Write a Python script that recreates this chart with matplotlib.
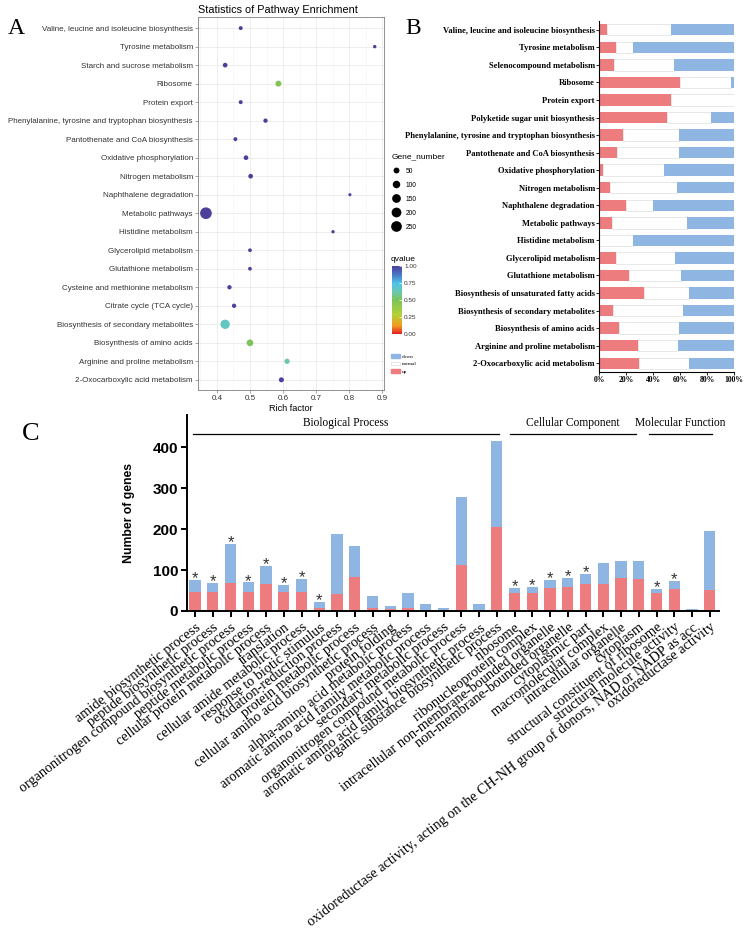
import numpy as np
import matplotlib.pyplot as plt
from matplotlib.colors import LinearSegmentedColormap, Normalize
from matplotlib.cm import ScalarMappable
from matplotlib.lines import Line2D
from matplotlib.patches import Patch

W, H = 744, 934

# ---------------- panel A: KEGG enrichment bubbles (top to bottom) ----------------
kegg_terms = [
    'Valine, leucine and isoleucine biosynthesis', 'Tyrosine metabolism',
    'Starch and sucrose metabolism', 'Ribosome', 'Protein export',
    'Phenylalanine, tyrosine and tryptophan biosynthesis',
    'Pantothenate and CoA biosynthesis', 'Oxidative phosphorylation',
    'Nitrogen metabolism', 'Naphthalene degradation', 'Metabolic pathways',
    'Histidine metabolism', 'Glycerolipid metabolism', 'Glutathione metabolism',
    'Cysteine and methionine metabolism', 'Citrate cycle (TCA cycle)',
    'Biosynthesis of secondary metabolites', 'Biosynthesis of amino acids',
    'Arginine and proline metabolism', '2-Oxocarboxylic acid metabolism',
]
rich_factor = [0.472, 0.877, 0.425, 0.586, 0.472, 0.547, 0.456, 0.488, 0.502, 0.802,
               0.367, 0.751, 0.500, 0.500, 0.438, 0.452, 0.425, 0.500, 0.612, 0.595]
gene_number = [13, 7, 24, 53, 13, 18, 13, 24, 24, 4,
               310, 6, 10, 10, 18, 18, 177, 73, 36, 30]
qvalue = [1.0, 1.0, 1.0, 0.48, 1.0, 1.0, 1.0, 1.0, 1.0, 1.0,
          1.0, 1.0, 1.0, 1.0, 1.0, 1.0, 0.66, 0.50, 0.60, 1.0]
size_breaks = [50, 100, 150, 200, 250]
q_breaks = [0.0, 0.25, 0.5, 0.75, 1.0]

# ---------------- panel B: up / normal / down share (%) ----------------
b_terms = [
    'Valine, leucine and isoleucine biosynthesis', 'Tyrosine metabolism',
    'Selenocompound metabolism', 'Ribosome', 'Protein export',
    'Polyketide sugar unit biosynthesis',
    'Phenylalanine, tyrosine and tryptophan biosynthesis',
    'Pantothenate and CoA biosynthesis', 'Oxidative phosphorylation',
    'Nitrogen metabolism', 'Naphthalene degradation', 'Metabolic pathways',
    'Histidine metabolism', 'Glycerolipid metabolism', 'Glutathione metabolism',
    'Biosynthesis of unsaturated fatty acids', 'Biosynthesis of secondary metabolites',
    'Biosynthesis of amino acids', 'Arginine and proline metabolism',
    '2-Oxocarboxylic acid metabolism',
]
b_up = [6, 12.5, 11, 60, 53, 50, 18, 13.5, 3, 8, 20, 9.5, 0, 12.5, 22, 33.3, 10, 15, 29, 29.5]
b_down = [47, 75, 44.5, 2, 0, 17, 41, 41, 52, 42.5, 60, 34.5, 75, 44, 39, 33.4, 38, 40.5, 41.5, 33.5]

# ---------------- panel C: GO terms ----------------
go_terms = [
    'amide biosynthetic process', 'peptide biosynthetic process',
    'organonitrogen compound biosynthetic process', 'peptide metabolic process',
    'cellular protein metabolic process', 'translation',
    'cellular amide metabolic process', 'response to biotic stimulus',
    'oxidation-reduction process', 'protein metabolic process',
    'cellular amino acid biosynthetic process', 'protein folding',
    'alpha-amino acid metabolic process', 'aromatic amino acid family metabolic process',
    'secondary metabolic process', 'organonitrogen compound metabolic process',
    'aromatic amino acid family biosynthetic process',
    'organic substance biosynthetic process',
    'ribosome', 'ribonucleoprotein complex',
    'intracellular non-membrane-bounded organelle', 'non-membrane-bounded organelle',
    'cytoplasmic part', 'macromolecular complex', 'intracellular organelle', 'cytoplasm',
    'structural constituent of ribosome', 'structural molecule activity',
    'oxidoreductase activity, acting on the CH-NH group of donors, NAD or NADP as acc',
    'oxidoreductase activity',
]
go_total = [76, 69, 164, 70, 111, 64, 79, 22, 188, 158, 36, 11, 44, 17, 7,
            279, 16, 415, 57, 59, 76, 81, 91, 118, 122, 122, 54, 74, 6, 195]
go_up = [46, 46, 68, 46, 65, 46, 47, 7, 42, 84, 7, 5, 7, 1, 2,
         112, 1, 205, 43, 45, 56, 58, 67, 67, 80, 77, 43, 53, 1, 51]
go_star = [1, 1, 1, 1, 1, 1, 1, 1, 0, 0, 0, 0, 0, 0, 0,
           0, 0, 0, 1, 1, 1, 1, 1, 0, 0, 0, 1, 1, 0, 0]
go_groups = ['Biological Process', 'Cellular Component', 'Molecular Function']
go_group_span = [(-0.1, 17.1), (17.75, 24.85), (25.6, 29.1)]

RED = '#ED7C7F'
BLUE = '#8FB6E3'


def px_axes(fig, l, t, r, b):
    return fig.add_axes([l / W, 1 - b / H, (r - l) / W, (b - t) / H])


def dot_px(g):
    # bubble diameter in pixels, area-like scaling
    return 2.0 + 9.5 * np.sqrt(np.asarray(g, float) / 300.0)


fig = plt.figure(figsize=(W / 100, H / 100), dpi=100)
fig.patch.set_facecolor('white')

sans = 'Liberation Sans'
serif = 'Liberation Serif'

# ======================= A =======================
cmap = LinearSegmentedColormap.from_list('q', [
    (0.0, '#E41E26'), (0.12, '#F39A1E'), (0.28, '#B4D234'), (0.5, '#7CC35A'),
    (0.62, '#6BC8B0'), (0.75, '#4EC2E8'), (0.88, '#4A75C4'), (1.0, '#4E3F9A')])
norm = Normalize(0, 1)

axA = px_axes(fig, 198, 17, 384, 390)
n = len(kegg_terms)
ya = np.arange(n)[::-1]
axA.scatter(rich_factor, ya, s=(dot_px(gene_number) * 0.72) ** 2,
            c=qvalue, cmap=cmap, norm=norm, linewidths=0, zorder=3)
axA.set_xlim(0.343, 0.905)
axA.set_ylim(-0.55, n - 0.4)
axA.set_yticks(ya)
axA.set_yticklabels(kegg_terms)
axA.set_xticks([0.4, 0.5, 0.6, 0.7, 0.8, 0.9])
axA.set_xticks([0.35, 0.45, 0.55, 0.65, 0.75, 0.85], minor=True)
axA.tick_params(axis='both', labelsize=5.75, colors='#7f7f7f', length=2.2, width=0.5,
                pad=1.5, labelcolor='#333333')
axA.tick_params(axis='x', which='minor', length=0)
for lab in axA.get_xticklabels() + axA.get_yticklabels():
    lab.set_fontfamily(sans)
axA.grid(True, which='major', color='#ebebeb', lw=0.6)
axA.grid(True, which='minor', axis='x', color='#f3f3f3', lw=0.4)
axA.set_axisbelow(True)
for sp in axA.spines.values():
    sp.set_color('#7f7f7f')
    sp.set_linewidth(0.6)
axA.set_xlabel('Rich factor', fontsize=6.6, family=sans, labelpad=1.5)
axA.set_title('Statistics of Pathway Enrichment', fontsize=7.8, family=sans, pad=3,
              loc='left')

# size legend
size_handles = [Line2D([], [], ls='', marker='o', color='black', mec='none',
                       markersize=dot_px(g) * 0.72) for g in size_breaks]
legS = fig.legend(size_handles, [str(g) for g in size_breaks], title='Gene_number',
                  loc='upper left', bbox_to_anchor=(389 / W, 1 - 151 / H),
                  frameon=False, title_fontsize=6, labelspacing=1.05,
                  handletextpad=0.9, handlelength=1.2, borderaxespad=0,
                  prop={'family': sans, 'size': 4.8})
legS._legend_box.align = 'left'
legS.get_title().set_fontfamily(sans)

# qvalue colourbar
cax = px_axes(fig, 392, 266, 402, 334)
cb = fig.colorbar(ScalarMappable(norm=norm, cmap=cmap), cax=cax, ticks=q_breaks)
cb.ax.set_yticklabels(['%.2f' % q for q in q_breaks])
cb.ax.tick_params(labelsize=4.6, length=2, width=0.5, color='white', pad=1.5,
                  labelcolor='#333333', direction='in')
for lab in cb.ax.get_yticklabels():
    lab.set_fontfamily(sans)
cb.outline.set_visible(False)
fig.text(391 / W, 1 - 263 / H, 'qvalue', fontsize=6, family=sans, va='bottom')

# ======================= B =======================
axB = px_axes(fig, 599, 21, 734, 372)
nb = len(b_terms)
yb = np.arange(nb)[::-1]
b_up_a = np.array(b_up, float)
b_down_a = np.array(b_down, float)
b_norm_a = 100 - b_up_a - b_down_a
axB.barh(yb, b_up_a, height=0.65, color=RED, lw=0)
axB.barh(yb, b_norm_a, left=b_up_a, height=0.65, color='white', edgecolor='#dedede', lw=0.5)
axB.barh(yb, b_down_a, left=b_up_a + b_norm_a, height=0.65, color=BLUE, lw=0)
axB.set_xlim(0, 100)
axB.set_ylim(-0.5, nb - 0.5)
axB.set_yticks(yb)
axB.set_yticklabels(b_terms, fontsize=6.1, family=serif, fontweight='bold')
axB.set_xticks(np.arange(0, 101, 20))
axB.set_xticklabels(['%d%%' % v for v in range(0, 101, 20)], fontsize=5.5,
                    family=serif, fontweight='bold')
axB.tick_params(length=2, width=0.6, pad=1)
for s in ['top', 'right']:
    axB.spines[s].set_visible(False)
for s in ['left', 'bottom']:
    axB.spines[s].set_linewidth(0.8)

fig.legend([Patch(color=BLUE), Patch(facecolor='white', edgecolor='#dddddd', lw=0.5),
            Patch(color=RED)], ['down', 'normal', 'up'],
           loc='upper left', bbox_to_anchor=(389 / W, 1 - 352 / H), frameon=False,
           prop={'family': serif, 'size': 3.8}, handlelength=1.6, handleheight=0.7,
           labelspacing=0.55, handletextpad=0.5, borderaxespad=0)

# ======================= C =======================
axC = px_axes(fig, 186.7, 415, 719, 611)
xc = np.arange(len(go_terms))
tot = np.array(go_total, float)
up = np.array(go_up, float)
axC.bar(xc, up, width=0.64, color=RED, lw=0)
axC.bar(xc, tot - up, bottom=up, width=0.64, color=BLUE, lw=0)
for i in xc:
    if go_star[i]:
        axC.text(i, tot[i] + 21, '*', ha='center', va='top', fontsize=12,
                 color='#333333', family=sans)
axC.set_xlim(-0.47, len(go_terms) - 0.48)
axC.set_ylim(0, 479)
axC.set_yticks([0, 100, 200, 300, 400])
axC.set_yticklabels(['0', '100', '200', '300', '400'], fontsize=11,
                    family=sans, fontweight='bold')
axC.set_xticks(xc)
axC.set_xticklabels(go_terms, rotation=37.5, ha='right', rotation_mode='anchor',
                    fontsize=10.3, family=serif)
axC.tick_params(axis='both', length=4, width=1.4, pad=2)
axC.tick_params(axis='x', pad=3)
for s in ['top', 'right']:
    axC.spines[s].set_visible(False)
for s in ['left', 'bottom']:
    axC.spines[s].set_linewidth(1.4)
axC.set_ylabel('Number of genes', fontsize=8.8, family=sans, fontweight='bold',
               labelpad=13)
for name, (x0, x1) in zip(go_groups, go_group_span):
    axC.plot([x0, x1], [433, 433], color='black', lw=0.9, clip_on=False)
    axC.text((x0 + x1) / 2, 446, name, ha='center', va='bottom', fontsize=8.3,
             family=serif, clip_on=False)

# panel letters
fig.text(8 / W, 1 - 34 / H, 'A', fontsize=17, family=serif)
fig.text(405 / W, 1 - 34 / H, 'B', fontsize=17, family=serif)
fig.text(22 / W, 1 - 440 / H, 'C', fontsize=19, family=serif)

fig.savefig('out.png', dpi=100, facecolor='white')
